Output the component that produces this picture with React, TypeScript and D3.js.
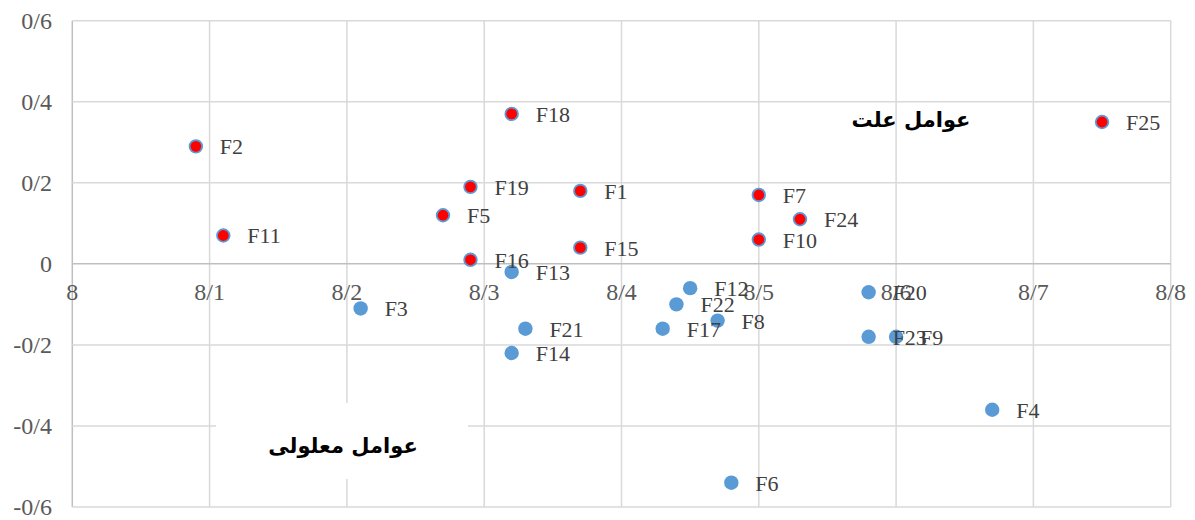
import React from "react";
import * as d3 from "d3";

const causeNames = ["F2", "F11", "F18", "F19", "F5", "F16", "F1", "F15", "F7", "F10", "F24", "F25"];
const causeX = [8.09, 8.11, 8.32, 8.29, 8.27, 8.29, 8.37, 8.37, 8.5, 8.5, 8.53, 8.75];
const causeY = [0.29, 0.07, 0.37, 0.19, 0.12, 0.01, 0.18, 0.04, 0.17, 0.06, 0.11, 0.35];

const effectNames = ["F13", "F3", "F21", "F14", "F12", "F22", "F8", "F17", "F20", "F23", "F9", "F4", "F6"];
const effectX = [8.32, 8.21, 8.33, 8.32, 8.45, 8.44, 8.47, 8.43, 8.58, 8.58, 8.6, 8.67, 8.48];
const effectY = [-0.02, -0.11, -0.16, -0.22, -0.06, -0.1, -0.14, -0.16, -0.07, -0.18, -0.18, -0.36, -0.54];

const xTicks = [8, 8.1, 8.2, 8.3, 8.4, 8.5, 8.6, 8.7, 8.8];
const yTicks = [0.6, 0.4, 0.2, 0, -0.2, -0.4, -0.6];

const causeTitle = "عوامل علت";
const effectTitle = "عوامل معلولی";

const W = 1195;
const H = 520;
const left = 72.3;
const right = 1170.7;
const top = 20.7;
const bottom = 507;

const fmt = (v: number) => String(+v.toFixed(2)).replace(".", "/");

export default function App() {
  const x = d3.scaleLinear().domain([8, 8.8]).range([left, right]);
  const y = d3.scaleLinear().domain([-0.6, 0.6]).range([bottom, top]);
  const serif = "'Liberation Serif', 'Times New Roman', serif";
  const blue = "#5B9BD5";
  const grid = "#d9d9d9";

  return (
    <svg width={W} height={H} style={{ position: "absolute", left: 0, top: 0, background: "#fff" }}>
      <rect x={0} y={0} width={W} height={H} fill="#fff" />
      {xTicks.map((t, i) => (
        <line key={"gx" + i} x1={x(t)} x2={x(t)} y1={top} y2={bottom} stroke={i === 0 ? "#bfbfbf" : grid} strokeWidth={1.5} />
      ))}
      {yTicks.map((t, i) => (
        <line key={"gy" + i} x1={left} x2={right} y1={y(t)} y2={y(t)} stroke={t === 0 ? "#bfbfbf" : grid} strokeWidth={1.5} />
      ))}
      <rect x={216} y={403} width={252} height={76} fill="#fff" />
      {yTicks.map((t, i) => (
        <text key={"ty" + i} x={52} y={y(t) + 8} textAnchor="end" fontFamily={serif} fontSize={24} fill="#595959">
          {fmt(t)}
        </text>
      ))}
      {xTicks.map((t, i) => (
        <text key={"tx" + i} x={x(t)} y={y(0) + 36} textAnchor="middle" fontFamily={serif} fontSize={24} fill="#595959">
          {fmt(t)}
        </text>
      ))}
      <text x={911} y={127} textAnchor="middle" fontFamily="'DejaVu Sans', sans-serif" fontWeight="bold" fontSize={21} fill="#000" direction="rtl">
        {causeTitle}
      </text>
      <text x={343} y={453} textAnchor="middle" fontFamily="'DejaVu Sans', sans-serif" fontWeight="bold" fontSize={21} fill="#000" direction="rtl">
        {effectTitle}
      </text>
      {effectNames.map((n, i) => (
        <circle key={"ec" + i} cx={x(effectX[i])} cy={y(effectY[i])} r={7.2} fill={blue} />
      ))}
      {causeNames.map((n, i) => (
        <circle key={"cc" + i} cx={x(causeX[i])} cy={y(causeY[i])} r={6.3} fill="#ff0000" stroke={blue} strokeWidth={1.8} />
      ))}
      {effectNames.map((n, i) => (
        <text key={"el" + i} x={x(effectX[i]) + 24} y={y(effectY[i]) + 8} fontFamily={serif} fontSize={22} fill="#404040">
          {n}
        </text>
      ))}
      {causeNames.map((n, i) => (
        <text key={"cl" + i} x={x(causeX[i]) + 24} y={y(causeY[i]) + 8} fontFamily={serif} fontSize={22} fill="#404040">
          {n}
        </text>
      ))}
    </svg>
  );
}
